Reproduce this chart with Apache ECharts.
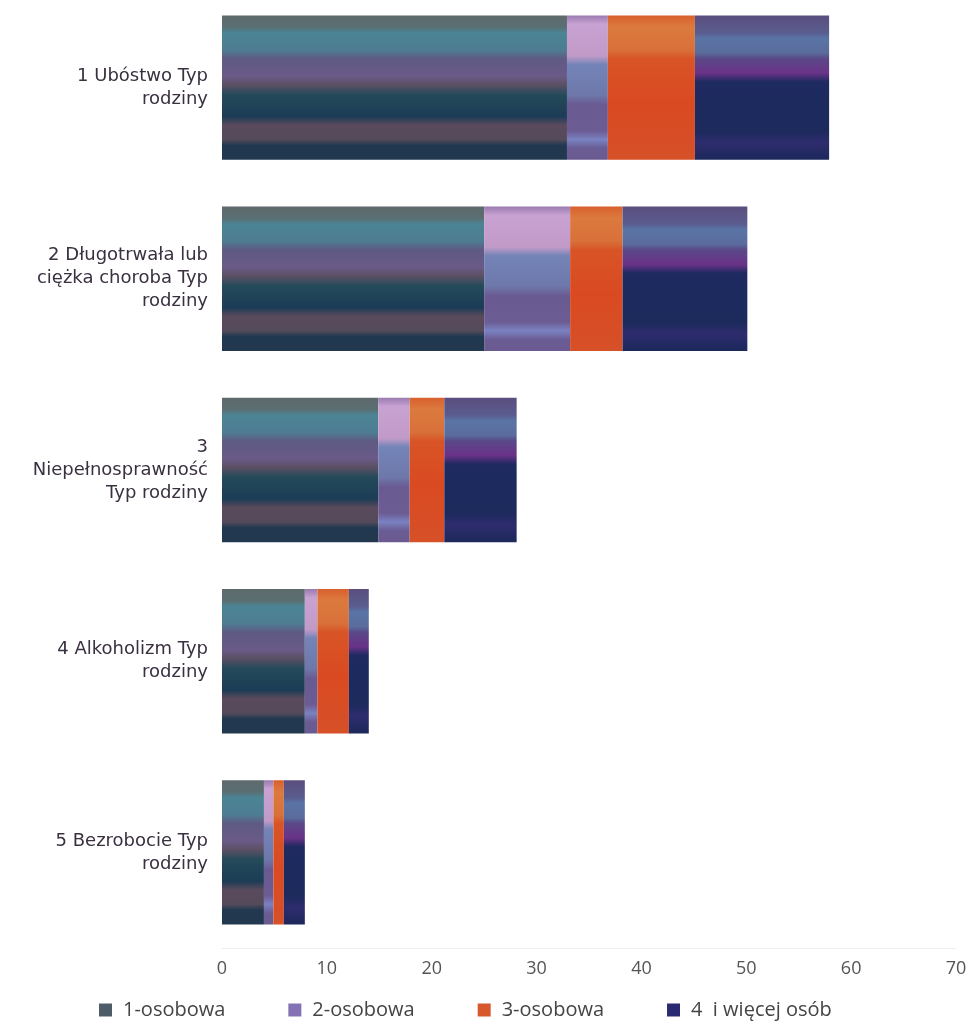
<!DOCTYPE html>
<html>
<head>
<meta charset="utf-8">
<script src="https://cdn.jsdelivr.net/npm/echarts@6/dist/echarts.min.js"></script>
<style>
html,body{margin:0;padding:0;background:#fff;}
#chart{width:968px;height:1031px;}
</style>
</head>
<body>
<div id="chart"></div>
<script>
// Data
var categories = [
  '1 Ubóstwo Typ\nrodziny',
  '2 Długotrwała lub\nciężka choroba Typ\nrodziny',
  '3\nNiepełnosprawność\nTyp rodziny',
  '4 Alkoholizm Typ\nrodziny',
  '5 Bezrobocie Typ\nrodziny'
];
var seriesNames = ['1-osobowa', '2-osobowa', '3-osobowa', '4  i więcej osób'];
var osobowa1 = [32.9, 25.0, 14.9, 7.9, 4.0];
var osobowa2 = [3.9, 8.2, 3.0, 1.2, 0.9];
var osobowa3 = [8.3, 5.0, 3.3, 3.0, 1.0];
var osob4plus = [12.8, 11.9, 6.9, 1.9, 2.0];
var xTicks = [0, 10, 20, 30, 40, 50, 60, 70];

function vgrad(stops) {
  return {
    type: 'linear', x: 0, y: 0, x2: 0, y2: 1,
    colorStops: stops.map(function (s) { return { offset: s[0], color: s[1] }; })
  };
}
var colors = [
  vgrad([[0, '#5e6a6c'], [0.08, '#5a6e72'], [0.12, '#4b8494'], [0.24, '#4e7c92'], [0.3, '#5e5a84'], [0.42, '#6a5a88'], [0.48, '#5c5064'], [0.55, '#244a5a'], [0.7, '#1c3c56'], [0.76, '#5a4a5c'], [0.86, '#544a5a'], [0.9, '#203850'], [1, '#22384e']]),
  vgrad([[0, '#9a7ab0'], [0.06, '#c8a2d2'], [0.28, '#c29ac8'], [0.34, '#7484b8'], [0.55, '#6e78aa'], [0.62, '#6a5a92'], [0.8, '#6c5c94'], [0.86, '#7a82c2'], [0.92, '#6a5c94'], [1, '#6a5a90']]),
  vgrad([[0, '#d8602e'], [0.08, '#dc7a3e'], [0.24, '#d8703a'], [0.3, '#d85426'], [0.6, '#da4a22'], [1, '#d65028']]),
  vgrad([[0, '#5a4e7e'], [0.12, '#5a5c8e'], [0.16, '#5a74a6'], [0.26, '#5a6c9c'], [0.3, '#5a4888'], [0.4, '#6a3288'], [0.46, '#1e2a60'], [0.8, '#1c2a5c'], [0.88, '#2e2c6e'], [1, '#1c285a']])
];
var legendColors = ['#4e5c6a', '#8472b4', '#d6582c', '#2a2a70'];

var dataSets = [osobowa1, osobowa2, osobowa3, osob4plus];
var series = dataSets.map(function (d, i) {
  return {
    name: seriesNames[i],
    type: 'bar',
    stack: 'total',
    barCategoryGap: '24.5%',
    data: d,
    itemStyle: { color: colors[i] },
    emphasis: { disabled: true }
  };
});

var chart = echarts.init(document.getElementById('chart'), null, { renderer: 'canvas' });
chart.setOption({
  animation: false,
  backgroundColor: '#ffffff',
  grid: { left: 222, right: 12, top: -8, bottom: 83, containLabel: false, outerBoundsMode: 'none' },
  legend: {
    left: 94,
    top: 995,
    itemWidth: 13,
    itemHeight: 13,
    itemGap: 63,
    icon: 'rect',
    selectedMode: false,
    data: seriesNames.map(function (n, i) { return { name: n, itemStyle: { color: legendColors[i] } }; }),
    textStyle: { fontFamily: 'Open Sans', fontSize: 20, color: '#444444', padding: [0, 0, 0, 6] }
  },
  xAxis: {
    type: 'value',
    min: xTicks[0],
    max: xTicks[xTicks.length - 1],
    interval: 10,
    axisLine: { show: true, lineStyle: { color: '#efefef', width: 1 } },
    axisTick: { show: false },
    splitLine: { show: false },
    axisLabel: { fontFamily: 'Open Sans', fontSize: 18, color: '#555555', margin: 12 }
  },
  yAxis: {
    type: 'category',
    inverse: true,
    data: categories,
    axisLine: { show: false },
    axisTick: { show: false },
    axisLabel: {
      fontFamily: 'DejaVu Sans',
      fontSize: 18,
      lineHeight: 23,
      color: '#3a3040',
      align: 'right',
      margin: 14,
      padding: [0, 0, 8, 0]
    }
  },
  series: series
});
</script>
</body>
</html>
